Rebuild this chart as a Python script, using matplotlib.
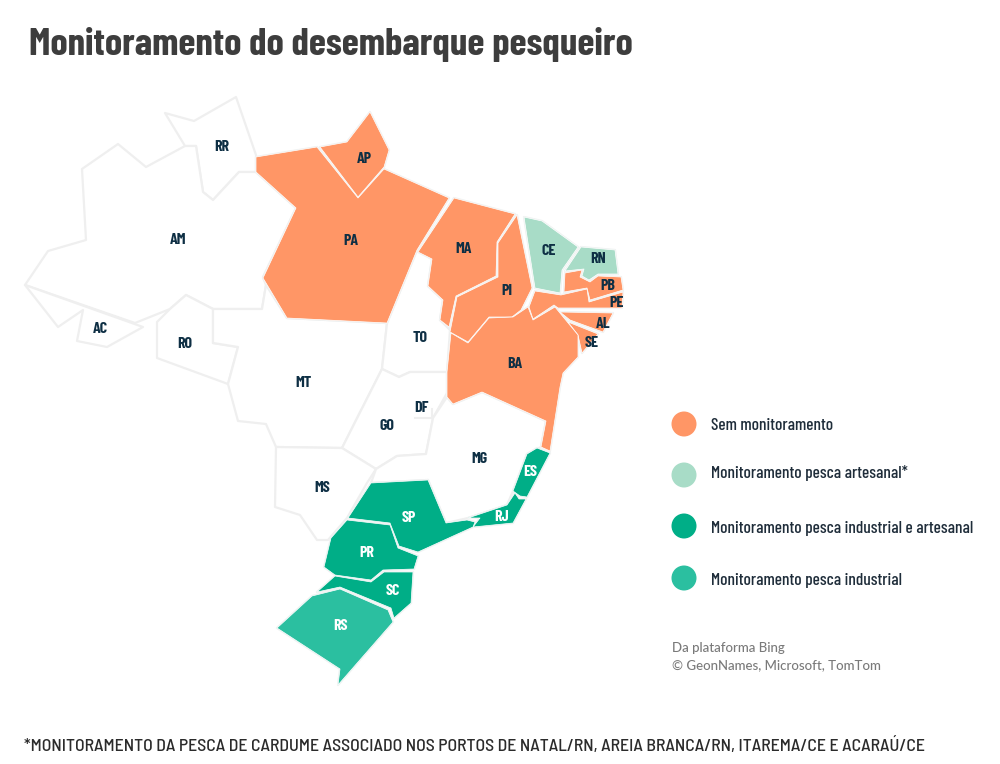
# map of fish landing monitoring by state, polygons (pixel coords)
import matplotlib
matplotlib.use('Agg')
import matplotlib.pyplot as plt
from matplotlib.patches import Polygon, Circle

title = 'Monitoramento do desembarque pesqueiro'
footnote = '*MONITORAMENTO DA PESCA DE CARDUME ASSOCIADO NOS PORTOS DE NATAL/RN, AREIA BRANCA/RN, ITAREMA/CE E ACARAÚ/CE'
source_lines = ['Da plataforma Bing', '© GeonNames, Microsoft, TomTom']
legend_labels = ['Sem monitoramento', 'Monitoramento pesca artesanal*',
                 'Monitoramento pesca industrial e artesanal', 'Monitoramento pesca industrial']
legend_y = [424, 475, 526, 578]
legend_text_y = [426, 473, 529, 580]
colours = ['#FF9666', '#A8DCC7', '#00AE87', '#2BBFA0']

# state: outline
rr = [(165,113),(194,121),(236,97),(256,155),(256,172),(239,172),(213,200),(203,192),(196,146),(185,146)]
am = [(185,146),(146,167),(118,144),(82,169),(86,240),(48,251),(25,285),(135,323),(170,309),(186,295),(213,309),(262,309),(266,285),(263,277),(296,208),(256,172),(239,172),(213,200),(203,192),(196,146)]
ac = [(25,285),(58,327),(83,310),(77,341),(107,347),(143,327)]
ro = [(157,322),(170,309),(186,295),(213,309),(213,343),(238,347),(228,384),(157,358)]
mt = [(213,309),(262,309),(266,285),(287,318),(387,323),(382,369),(342,448),(276,447),(266,424),(238,421),(228,384),(238,347),(213,343)]
to = [(387,323),(417,250),(432,259),(428,286),(443,300),(440,320),(450,330),(447,372),(410,372),(399,377),(382,369)]
go = [(382,369),(399,377),(410,372),(447,372),(447,393),(433,418),(426,454),(397,456),(376,469),(342,448)]
df = [(415,418),(432,418),(432,409)]
ms = [(276,447),(342,448),(376,469),(367,483),(347,518),(328,540),(317,540),(300,515),(275,507)]
mg = [(376,469),(397,456),(426,454),(433,418),(447,397),(453,404),(482,392),(546,421),(541,447),(527,454),(513,491),(507,505),(468,518),(446,523),(428,480),(371,483)]
pa = [(256,157),(317,147),(358,198),(384,169),(449,198),(417,250),(387,323),(287,318),(263,278),(296,208),(256,172)]
ap = [(370,112),(389,150),(384,167),(358,197),(320,147),(347,142)]
ma = [(454,198),(515,214),(497,242),(496,276),(456,296),(449,327),(440,320),(443,300),(428,286),(432,259),(418,252)]
pi_ = [(517,215),(532,288),(521,310),(512,317),(489,317),(468,342),(450,332),(457,297),(498,277),(498,243)]
ce = [(524,217),(542,221),(578,247),(562,270),(560,293),(535,288)]
rn = [(581,247),(615,250),(618,274),(598,274),(589,280),(582,276),(584,269),(565,271)]
pb = [(565,273),(582,270),(580,277),(590,282),(598,276),(621,277),(623,290),(590,300),(587,288),(564,292)]
pe = [(535,291),(561,295),(587,289),(589,302),(623,292),(622,308),(558,308),(554,305),(533,319),(529,307)]
al = [(560,312),(613,313),(603,332),(570,320)]
se = [(568,322),(598,334),(582,353),(578,335)]
ba = [(451,333),(468,343),(489,318),(513,317),(528,307),(533,320),(555,307),(578,335),(578,357),(563,373),(560,387),(550,451),(541,447),(546,421),(482,392),(453,404),(447,397),(447,372)]
es = [(527,454),(537,448),(550,453),(527,497),(520,496),(513,491)]
rj = [(515,493),(519,499),(526,499),(513,523),(473,527),(480,518),(468,518),(507,505)]
sp = [(371,483),(428,480),(446,523),(467,520),(475,522),(473,527),(418,552),(399,546),(390,523),(348,518)]
pr = [(347,520),(390,525),(398,548),(418,556),(414,569),(383,570),(371,580),(335,575),(324,567),(331,538)]
sc = [(335,576),(371,582),(384,572),(413,572),(411,603),(394,618),(391,608),(340,587),(317,592)]
rs = [(277,628),(312,596),(340,589),(388,610),(393,622),(338,685),(340,669)]

white_states = [rr, am, ac, ro, mt, to, go, ms, mg]
orange_states = [pa, ap, ma, pi_, pb, pe, al, se, ba]
light_states = [ce, rn]
dark_states = [es, rj, sp, pr, sc]
mid_states = [rs]

state_names = ['RR','AM','AC','RO','MT','TO','GO','DF','MS','MG','PA','AP','MA','PI','CE','RN','PB','PE','AL','SE','BA','ES','RJ','SP','PR','SC','RS']
label_x = [222,178,100,185,303,420,387,421,322,479,351,364,464,507,549,598,608,617,603,592,515,530,502,409,367,393,341]
label_y = [147,240,329,344,383,338,426,408,488,459,241,159,249,291,251,259,286,303,324,343,364,472,517,518,553,591,626]
light_text = ['ES','RJ','SP','PR','SC','RS']

# condensed faces first, the plain ones only if those are missing
narrow = ['Barlow Condensed', 'Roboto Condensed', 'Liberation Sans Narrow', 'Liberation Sans']
semi = ['Barlow Semi Condensed', 'Roboto Condensed', 'Liberation Sans Narrow', 'Liberation Sans']

fig = plt.figure(figsize=(10, 7.64), dpi=100)
ax = fig.add_axes([0, 0, 1, 1])
ax.set_xlim(0, 1000)
ax.set_ylim(764, 0)
ax.axis('off')

for poly in white_states:
    ax.add_patch(Polygon(poly, closed=True, facecolor='white', edgecolor='#EFEFEF', lw=1.6, joinstyle='round'))
ax.plot([p[0] for p in df], [p[1] for p in df], color='#EFEFEF', lw=1.5)

# faint halo round the coloured states, then the fills
groups = [orange_states, light_states, dark_states, mid_states]
for group in groups:
    for poly in group:
        ax.add_patch(Polygon(poly, closed=True, facecolor='none', edgecolor='#EEF1F1', lw=1.6, joinstyle='round'))
for group, c in zip(groups, colours):
    for poly in group:
        ax.add_patch(Polygon(poly, closed=True, facecolor=c, edgecolor='white', lw=0.5, joinstyle='round'))

for name, x, y in zip(state_names, label_x, label_y):
    c = 'white' if name in light_text else '#0E2F44'
    ax.text(x, y, name, ha='center', va='center', fontsize=11.5, fontweight='bold', family=narrow, color=c)

ax.text(29, 44, title, ha='left', va='center', fontsize=28, fontweight='bold', family=narrow, color='#3D3D3D')
ax.text(24, 745, footnote, ha='left', va='center', fontsize=12.8, fontweight='medium', family=semi, color='#2B2B2B')

for label, y, ty, c in zip(legend_labels, legend_y, legend_text_y, colours):
    ax.add_patch(Circle((684, y), 12.5, facecolor=c, edgecolor='none'))
    ax.text(711, ty, label, ha='left', va='center', fontsize=12.45, fontweight='medium', family=narrow, color='#1F2D3A')

for line, y in zip(source_lines, [648, 665]):
    ax.text(672, y, line, ha='left', va='center', fontsize=9.5, fontweight='medium', family='Lato', color='#7A7A7A')

fig.savefig('out.png', dpi=100)
print('plot saved!')
